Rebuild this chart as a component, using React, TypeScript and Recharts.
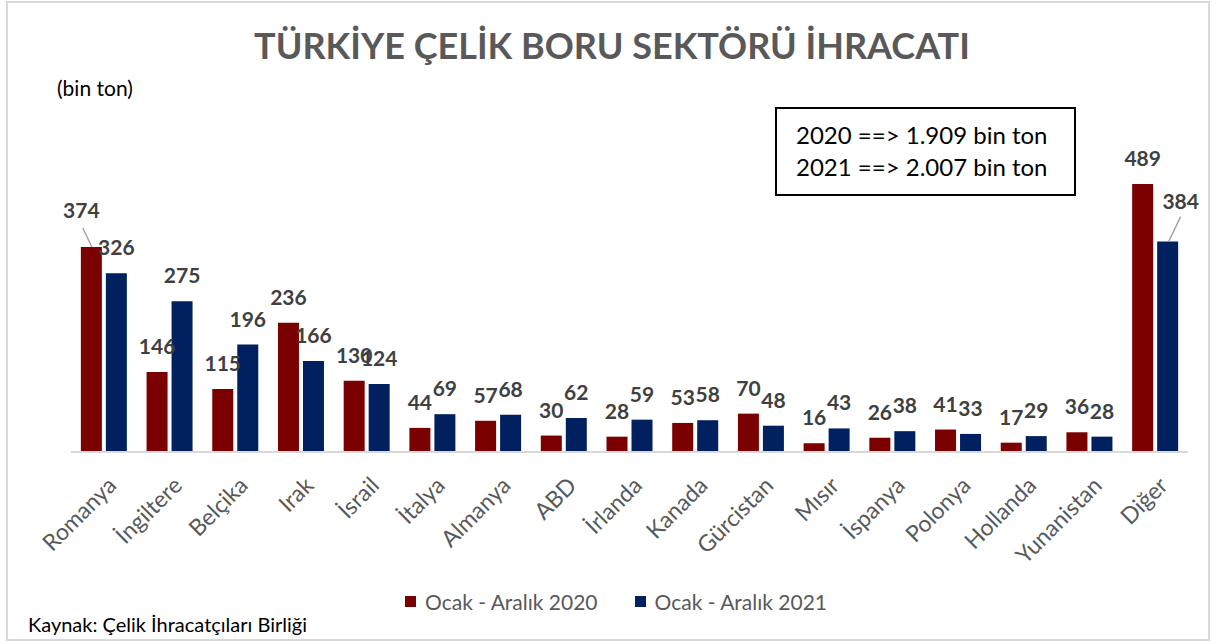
import React from "react";
import { BarChart, Bar, XAxis, YAxis, LabelList } from "recharts";

const countries = [
  "Romanya", "İngiltere", "Belçika", "Irak", "İsrail", "İtalya", "Almanya", "ABD", "İrlanda",
  "Kanada", "Gürcistan", "Mısır", "İspanya", "Polonya", "Hollanda", "Yunanistan", "Diğer",
];
const exports2020 = [374, 146, 115, 236, 130, 44, 57, 30, 28, 53, 70, 16, 26, 41, 17, 36, 489];
const exports2021 = [326, 275, 196, 166, 124, 69, 68, 62, 59, 58, 48, 43, 38, 33, 29, 28, 384];
const seriesNames = ["Ocak - Aralık 2020", "Ocak - Aralık 2021"];

const RED = "#7b0000";
const NAVY = "#002060";
const FONT = "Lato, 'Open Sans', sans-serif";

const data = countries.map((c, i) => ({ name: c, y2020: exports2020[i], y2021: exports2021[i] }));

// label above bar, with two moved labels (leader lines) like the original
const makeLabel = (series: string) => (props: any) => {
  const { x, y, width, value, index } = props;
  const cx = x + width / 2;
  const style = { fontSize: 21, fontWeight: 700, fill: "#404040", fontFamily: FONT };
  if (series === "y2020" && index === 0) {
    return (
      <g>
        <line x1={x + 2} y1={y - 19} x2={x + 11} y2={y} stroke="#a6a6a6" strokeWidth={1.5} />
        <text x={cx - 10} y={y - 29} textAnchor="middle" {...style}>{value}</text>
      </g>
    );
  }
  if (series === "y2021" && index === countries.length - 1) {
    return (
      <g>
        <line x1={cx + 13} y1={y - 25} x2={cx + 1} y2={y} stroke="#a6a6a6" strokeWidth={1.5} />
        <text x={cx + 13} y={y - 33} textAnchor="middle" {...style}>{value}</text>
      </g>
    );
  }
  return (
    <text x={cx} y={y - 18} textAnchor="middle" {...style}>{value}</text>
  );
};

const AngledTick = (props: any) => {
  const { x, y, payload } = props;
  const tx = x + 14;
  const ty = y + 27;
  return (
    <text
      x={tx}
      y={ty}
      textAnchor="end"
      transform={`rotate(-45, ${tx}, ${ty})`}
      fontSize={23}
      fill="#595959"
      fontFamily={FONT}
    >
      {payload.value}
    </text>
  );
};

export default function App() {
  return (
    <div style={{ position: "relative", width: 1217, height: 644, background: "#fff", fontFamily: FONT }}>
      <style>{`body{margin:0}`}</style>
      <div
        style={{
          position: "absolute", left: 6, top: 1, width: 1204, height: 640,
          border: "2px solid #d9d9d9", boxSizing: "border-box",
        }}
      />
      <div
        style={{
          position: "absolute", left: 0, width: 1224, top: 23, textAlign: "center",
          fontSize: 36, fontWeight: 700, color: "#595959",
        }}
      >
        TÜRKİYE ÇELİK BORU SEKTÖRÜ İHRACATI
      </div>
      <div style={{ position: "absolute", left: 57, top: 75, fontSize: 21, color: "#000" }}>(bin ton)</div>

      <div style={{ position: "absolute", left: 0, top: 0 }}>
        <BarChart
          width={1217}
          height={644}
          data={data}
          margin={{ top: 178, right: 29, left: 71, bottom: 82 }}
          barCategoryGap="15%"
          barGap={4}
        >
          <YAxis hide domain={[0, 500]} />
          <XAxis
            dataKey="name"
            interval={0}
            height={110}
            tickLine={false}
            axisLine={{ stroke: "#d9d9d9", strokeWidth: 2 }}
            tick={<AngledTick />}
          />
          <Bar dataKey="y2020" fill={RED} isAnimationActive={false}>
            <LabelList dataKey="y2020" content={makeLabel("y2020")} />
          </Bar>
          <Bar dataKey="y2021" fill={NAVY} isAnimationActive={false}>
            <LabelList dataKey="y2021" content={makeLabel("y2021")} />
          </Bar>
        </BarChart>
      </div>

      <div
        style={{
          position: "absolute", left: 775, top: 107, width: 301, height: 89,
          border: "2px solid #000", boxSizing: "border-box", background: "#fff",
          paddingLeft: 19, paddingTop: 10, fontSize: 24, lineHeight: "32px", color: "#000",
        }}
      >
        <div>2020 ==&gt; 1.909 bin ton</div>
        <div>2021 ==&gt; 2.007 bin ton</div>
      </div>

      <div style={{ position: "absolute", left: 405, top: 589, display: "flex", alignItems: "center", fontSize: 21, color: "#595959" }}>
        <span style={{ width: 11, height: 11, background: RED, marginRight: 9 }} />
        <span>{seriesNames[0]}</span>
        <span style={{ width: 11, height: 11, background: NAVY, marginLeft: 37, marginRight: 9 }} />
        <span>{seriesNames[1]}</span>
      </div>

      <div style={{ position: "absolute", left: 28, top: 612, fontSize: 20, color: "#000" }}>
        Kaynak: Çelik İhracatçıları Birliği
      </div>
    </div>
  );
}
